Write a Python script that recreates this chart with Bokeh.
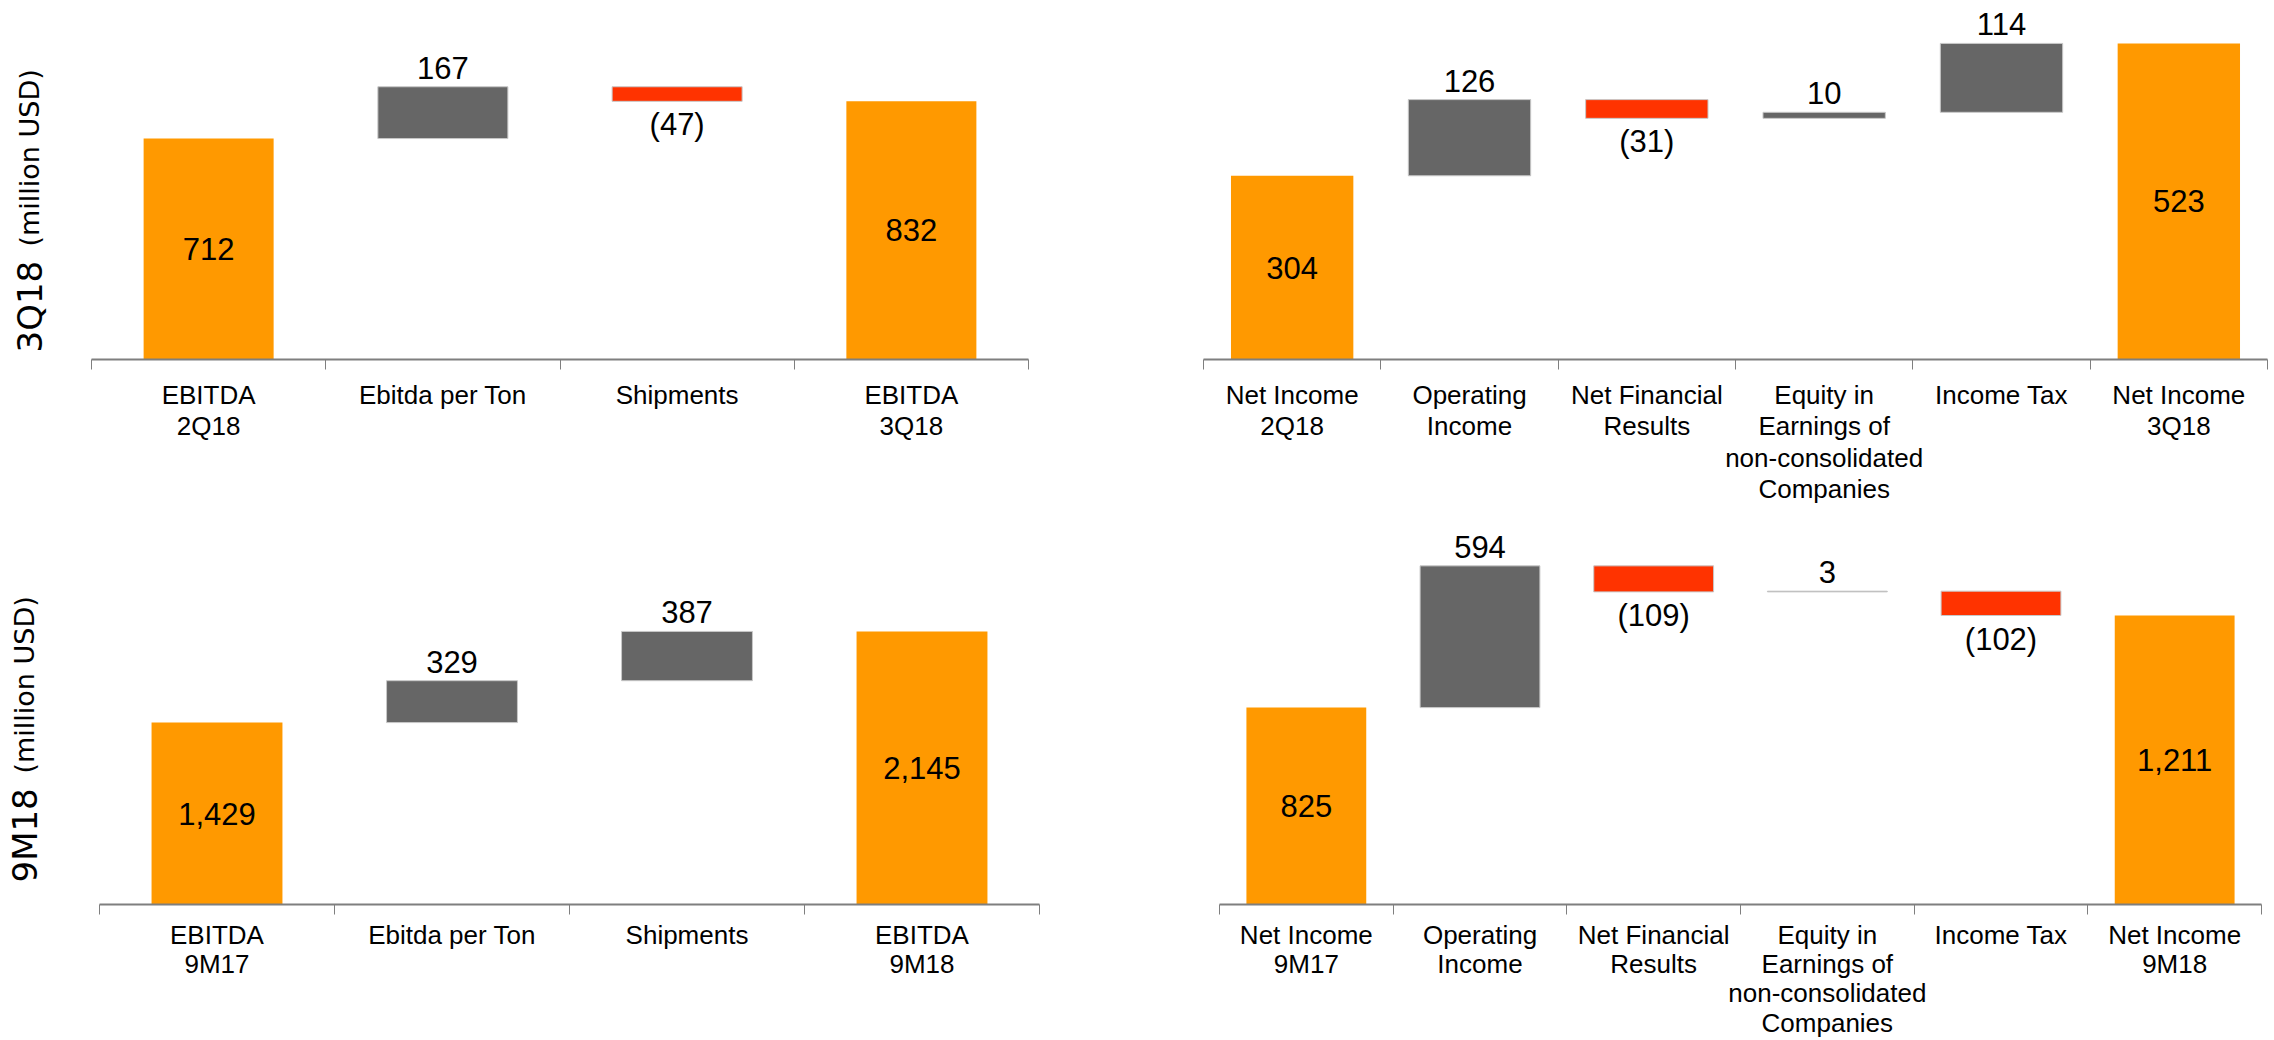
import math
from bokeh.plotting import figure
from bokeh.models import Range1d, LinearAxis, FixedTicker
from bokeh.layouts import row, column
from bokeh.embed import file_html
from bokeh.resources import INLINE
from bokeh.core.properties import value

# ---------------- data ----------------
ebitda_q_cats = ["EBITDA\n2Q18", "Ebitda per Ton", "Shipments", "EBITDA\n3Q18"]
ebitda_q_vals = [712, 167, -47, 832]

ni_q_cats = ["Net Income\n2Q18", "Operating\nIncome", "Net Financial\nResults",
             "Equity in\nEarnings of\nnon-consolidated\nCompanies", "Income Tax",
             "Net Income\n3Q18"]
ni_q_vals = [304, 126, -31, 10, 114, 523]

ebitda_9m_cats = ["EBITDA\n9M17", "Ebitda per Ton", "Shipments", "EBITDA\n9M18"]
ebitda_9m_vals = [1429, 329, 387, 2145]

ni_9m_cats = ["Net Income\n9M17", "Operating\nIncome", "Net Financial\nResults",
              "Equity in\nEarnings of\nnon-consolidated\nCompanies", "Income Tax",
              "Net Income\n9M18"]
ni_9m_vals = [825, 594, -109, 3, -102, 1211]

row_labels = ["3Q18", "9M18"]
unit_label = "(million USD)"

# ---------------- style ----------------
ORANGE = "#FF9900"
GRAY = "#666666"
RED = "#FF3300"
EDGE = "#C8C8C8"
AXIS = "#7F7F7F"
LBL_FONT = "Liberation Sans"
VAL_FONT = "Liberation Sans"
YL_FONT = "DejaVu Sans"


def waterfall(cats, vals, y_end, width, height, bleft, bright, btop, bbottom, bar_w,
              line_h, standoff):
    n = len(cats)
    centers = [i + 0.5 for i in range(n)]
    p = figure(x_range=Range1d(0, n), y_range=Range1d(0, y_end),
               width=width, height=height, output_backend="svg",
               toolbar_location=None, x_axis_location=None, y_axis_location=None,
               min_border_left=bleft, min_border_right=bright,
               min_border_top=btop, min_border_bottom=bbottom)
    p.outline_line_color = None
    p.background_fill_color = "white"
    p.border_fill_color = "white"
    p.grid.visible = False

    tot_x, tot_top, tot_mid, tot_txt = [], [], [], []
    up_x, up_b, up_t, up_txt = [], [], [], []
    dn_x, dn_b, dn_t, dn_txt = [], [], [], []
    running = vals[0]
    for i, v in enumerate(vals):
        x = centers[i]
        if i == 0 or i == n - 1:
            tot_x.append(x); tot_top.append(v); tot_mid.append(v / 2)
            tot_txt.append(f"{v:,}")
        else:
            lo, hi = min(running, running + v), max(running, running + v)
            if v >= 0:
                up_x.append(x); up_b.append(lo); up_t.append(hi); up_txt.append(f"{v:,}")
            else:
                dn_x.append(x); dn_b.append(lo); dn_t.append(hi); dn_txt.append(f"({-v:,})")
            running += v

    p.vbar(x=tot_x, bottom=0, top=tot_top, width=bar_w, fill_color=ORANGE, line_color=None)
    if up_x:
        p.vbar(x=up_x, bottom=up_b, top=up_t, width=bar_w, fill_color=GRAY,
               line_color=EDGE, line_width=1)
    if dn_x:
        p.vbar(x=dn_x, bottom=dn_b, top=dn_t, width=bar_w, fill_color=RED,
               line_color=EDGE, line_width=1)

    common = dict(text_align="center", text_font=value(VAL_FONT),
                  text_font_size="31px", text_color="#000000")
    p.text(x=tot_x, y=tot_mid, text=tot_txt, text_baseline="middle", **common)
    if up_x:
        p.text(x=up_x, y=up_t, text=up_txt, text_baseline="bottom", y_offset=-8, **common)
    if dn_x:
        p.text(x=dn_x, y=dn_b, text=dn_txt, text_baseline="top", y_offset=6, **common)

    # one axis: labels centred under bars, (minor) ticks at category boundaries
    ax = LinearAxis(ticker=FixedTicker(ticks=centers, minor_ticks=list(range(n + 1))))
    ax.major_label_overrides = {c: lab for c, lab in zip(centers, cats)}
    ax.axis_line_color = AXIS
    ax.axis_line_width = 2
    ax.major_tick_line_color = None
    ax.major_tick_in = 0
    ax.major_tick_out = 0
    ax.minor_tick_line_color = AXIS
    ax.minor_tick_line_width = 1
    ax.minor_tick_in = 0
    ax.minor_tick_out = 10
    ax.major_label_standoff = standoff
    ax.major_label_text_font = LBL_FONT
    ax.major_label_text_font_size = "26px"
    ax.major_label_text_color = "#000000"
    ax.major_label_text_line_height = line_h
    p.add_layout(ax, "below")
    return p


def ylabel_fig(height, btop, bbottom, frame_top, frame_bottom, x_base,
               big, small, big_start, small_start):
    p = figure(width=60, height=height, output_backend="svg", toolbar_location=None,
               x_range=Range1d(0, 60), y_range=Range1d(frame_bottom, frame_top),
               x_axis_location=None, y_axis_location=None,
               min_border_left=0, min_border_right=0,
               min_border_top=btop, min_border_bottom=bbottom)
    p.outline_line_color = None
    p.grid.visible = False
    p.text(x=[x_base], y=[big_start], text=[big], angle=math.pi / 2,
           text_align="left", text_baseline="alphabetic",
           text_font=value(YL_FONT), text_font_size="34px", text_color="#000000")
    p.text(x=[x_base], y=[small_start], text=[small], angle=math.pi / 2,
           text_align="left", text_baseline="alphabetic",
           text_font=value(YL_FONT), text_font_size="27px", text_color="#000000")
    return p


# top row: frame spans page y 0..359, row height 507
yl_top = ylabel_fig(507, 0, 148, 0, 359, 29, row_labels[0], unit_label, 352, 246)
tl = waterfall(ebitda_q_cats, ebitda_q_vals, 1157, 1040, 507, 31, 72, 0, 148, 0.555, 1.05, 10)
tr = waterfall(ni_q_cats, ni_q_vals, 594, 1174, 507, 103, 7, 0, 148, 0.69, 1.05, 10)

# bottom row: frame spans page y 510..904, row height 533
yl_bot = ylabel_fig(533, 3, 136, 510, 904, 24, row_labels[1], unit_label, 882, 773)
bl = waterfall(ebitda_9m_cats, ebitda_9m_vals, 3095, 1050, 533, 39, 71, 3, 136, 0.557, 0.98, 5)
br = waterfall(ni_9m_cats, ni_9m_vals, 1651, 1164, 533, 109, 13, 3, 136, 0.69, 0.98, 5)

layout = column(row(yl_top, tl, tr, spacing=0), row(yl_bot, bl, br, spacing=0), spacing=0)

with open("out.html", "w") as f:
    f.write(file_html(layout, INLINE))
